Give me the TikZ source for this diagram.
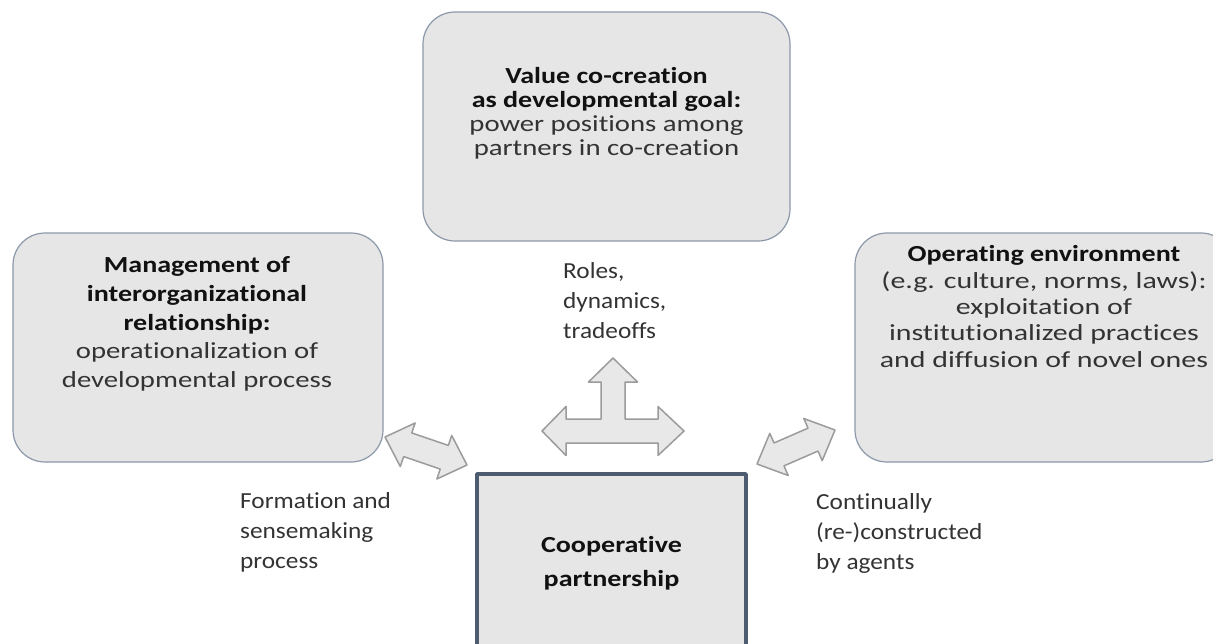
\documentclass[tikz,border=0pt]{standalone}
\usepackage{fontspec}
\setmainfont[Ligatures=NoCommon,UprightFeatures={FakeStretch=1.25},BoldFeatures={FakeStretch=1.22}]{Carlito}
\newfontfamily\envfont[Ligatures=NoCommon,UprightFeatures={FakeStretch=1.3},BoldFeatures={FakeStretch=1.22}]{Carlito}
\newfontfamily\lblfont[Ligatures=NoCommon,FakeStretch=1.1]{Carlito}
\usepackage{xcolor}
\definecolor{boxfill}{HTML}{E6E6E6}
\definecolor{boxedge}{HTML}{8C98AA}
\definecolor{coopedge}{HTML}{4E5C72}
\definecolor{arrfill}{HTML}{E8E8E8}
\definecolor{arredge}{HTML}{9B9B9B}
\definecolor{txtgray}{HTML}{333333}
\definecolor{txtdark}{HTML}{111111}
\newcommand{\hd}[1]{\textcolor{txtdark}{\bfseries #1}}

\begin{document}
\begin{tikzpicture}[line join=round,x=1pt,y=-1pt,
    roundbox/.style={draw=boxedge,fill=boxfill,line width=1.2pt,rounded corners=32pt,inner sep=0pt},
    coopbox/.style={draw=coopedge,fill=boxfill,line width=3.5pt,inner sep=0pt},
    boxtext/.style={align=center,inner sep=0pt,text=txtgray,anchor=north},
    sidetext/.style={align=left,inner sep=0pt,text=txtgray,anchor=north west,font=\lblfont\fontsize{23}{30}\selectfont},
    blockarrow/.style={draw=arredge,fill=arrfill,line width=1.5pt}]
    \useasboundingbox (0,0) rectangle (1213,643);
    \clip (0,0) rectangle (1213,643);
    \node[roundbox,minimum width=367pt,minimum height=229pt] (goal) at (606.5,126.5) {};
    \node[roundbox,minimum width=370pt,minimum height=229pt] (mgmt) at (198,347.5) {};
    \node[roundbox,minimum width=378pt,minimum height=229pt] (env) at (1044,347.5) {};
    \node[coopbox,minimum width=269pt,minimum height=226pt] (coop) at (611.5,587) {};
    \node[boxtext,font=\fontsize{23}{24}\selectfont] (goaltxt) at (606.5,67)
        {\hd{Value co-creation}\\ \hd{as developmental goal:}\\ power positions among\\ partners in co-creation};
    \node[boxtext,font=\fontsize{23}{28.7}\selectfont] (mgmttxt) at (197,256.5)
        {\hd{Management of}\\ \hd{interorganizational}\\ \hd{relationship:}\\ operationalization of\\ developmental process};
    \node[boxtext,font=\envfont\fontsize{23}{26.3}\selectfont] (envtxt) at (1044,245.5)
        {\hd{Operating environment}\\ (e.g. culture, norms, laws):\\ exploitation of\\ institutionalized practices\\ and diffusion of novel ones};
    \node[boxtext,font=\fontsize{23}{34}\selectfont] (cooptxt) at (611.5,536)
        {\hd{Cooperative}\\ \hd{partnership}};
    \node[sidetext] (roles) at (563,262) {Roles,\\ dynamics,\\ tradeoffs};
    \node[sidetext] (formation) at (240,492) {Formation and\\ sensemaking\\ process};
    \node[sidetext] (continual) at (816,493) {Continually\\ (re-)constructed\\ by agents};
    \draw[blockarrow] (542,431) -- (566,406.5) -- (566,419) -- (601,419) -- (601,382) -- (588.5,382)
        -- (613,358) -- (637.5,382) -- (625,382) -- (625,419) -- (658,419) -- (658,406.5)
        -- (684,431) -- (658,455.5) -- (658,443) -- (566,443) -- (566,455.5) -- cycle;
    \coordinate (lefttip) at (385,437);
    \coordinate (righttip) at (757,464);
    \begin{scope}[shift={(lefttip)},rotate=-18.85]
        \draw[blockarrow] (0,0) -- (24,23) -- (24,12.5) -- (62.65,12.5) -- (62.65,23) -- (86.65,0)
            -- (62.65,-23) -- (62.65,-12.5) -- (24,-12.5) -- (24,-23) -- cycle;
    \end{scope}
    \begin{scope}[shift={(righttip)},rotate=23.55]
        \draw[blockarrow] (0,0) -- (24,23) -- (24,12.5) -- (61.1,12.5) -- (61.1,23) -- (85.1,0)
            -- (61.1,-23) -- (61.1,-12.5) -- (24,-12.5) -- (24,-23) -- cycle;
    \end{scope}
\end{tikzpicture}
\end{document}
